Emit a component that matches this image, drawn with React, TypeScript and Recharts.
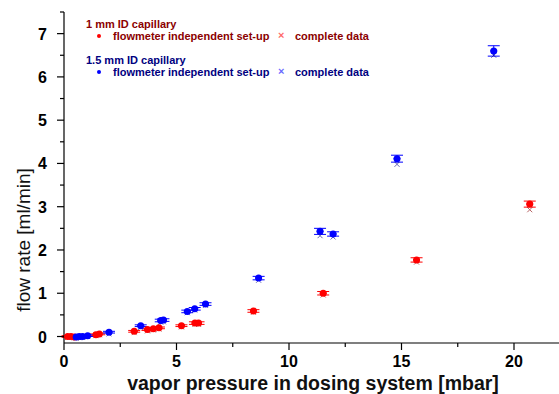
import { ScatterChart, Scatter, XAxis, YAxis, ErrorBar } from 'recharts'

// 1 mm ID capillary
const mm1Pressure = [0.16, 0.31, 0.46, 1.42, 1.57, 3.12, 3.71, 3.97, 4.22, 5.22, 5.82, 5.98, 8.42, 11.52, 15.67, 20.7]
const mm1Flow = [0.0, 0.0, -0.01, 0.04, 0.06, 0.12, 0.16, 0.18, 0.2, 0.25, 0.31, 0.31, 0.59, 1.0, 1.77, 3.06]
const mm1FlowErr = [0.02, 0.02, 0.02, 0.02, 0.02, 0.02, 0.02, 0.02, 0.02, 0.02, 0.03, 0.03, 0.03, 0.04, 0.05, 0.07]
const mm1Complete = [-0.02, -0.02, -0.03, 0.02, 0.04, 0.09, 0.13, 0.15, 0.17, 0.22, 0.28, 0.28, 0.56, 0.96, 1.72, 2.93]

// 1.5 mm ID capillary
const mm15Pressure = [0.54, 0.68, 0.83, 1.05, 2.0, 3.41, 4.3, 4.42, 5.48, 5.81, 6.29, 8.65, 11.38, 11.96, 14.8, 19.1]
const mm15Flow = [-0.01, 0.0, 0.0, 0.02, 0.1, 0.25, 0.37, 0.38, 0.58, 0.64, 0.75, 1.35, 2.43, 2.37, 4.11, 6.6]
const mm15FlowErr = [0.02, 0.02, 0.02, 0.02, 0.02, 0.02, 0.03, 0.03, 0.03, 0.03, 0.03, 0.04, 0.07, 0.05, 0.08, 0.12]
const mm15Complete = [-0.04, -0.03, -0.02, 0.0, 0.06, 0.21, 0.33, 0.34, 0.55, 0.61, 0.72, 1.3, 2.33, 2.3, 3.98, 6.5]

const pressureErr = 0.15

const xTicks = [0, 2.5, 5, 7.5, 10, 12.5, 15, 17.5, 20]
const yTicks = [0, 0.5, 1, 1.5, 2, 2.5, 3, 3.5, 4, 4.5, 5, 5.5, 6, 6.5, 7, 7.5]

const W = 559
const H = 394
const LEFT = 64
const TOP = 12
const BOTTOM_Y = 343
const FONT = '"Liberation Sans", Arial, sans-serif'

const RED = '#ff0000'
const BLUE = '#0000ff'
const DARK_RED = '#8b0000'
const NAVY = '#000080'

const toRows = (xs: number[], ys: number[], errs?: number[]) =>
  xs.map((x, i) => ({ x, y: ys[i], xErr: pressureErr, yErr: errs ? errs[i] : 0 }))

const mm1Data = toRows(mm1Pressure, mm1Flow, mm1FlowErr)
const mm1CompleteData = toRows(mm1Pressure, mm1Complete)
const mm15Data = toRows(mm15Pressure, mm15Flow, mm15FlowErr)
const mm15CompleteData = toRows(mm15Pressure, mm15Complete)

function YTick({ y, payload }: any) {
  const major = Number.isInteger(payload.value)
  return (
    <g>
      <line x1={LEFT} x2={LEFT - (major ? 7 : 4)} y1={y} y2={y} stroke="#000" strokeWidth={1.2} />
      {major && (
        <text x={47} y={y} dy={6} textAnchor="end" fontFamily={FONT} fontWeight="bold" fontSize={16} fill="#000">
          {payload.value}
        </text>
      )}
    </g>
  )
}

function XTick({ x, payload }: any) {
  const major = payload.value % 5 === 0
  return (
    <g>
      <line x1={x} x2={x} y1={BOTTOM_Y} y2={BOTTOM_Y + (major ? 7 : 4)} stroke="#000" strokeWidth={1.2} />
      {major && (
        <text x={x} y={367} textAnchor="middle" fontFamily={FONT} fontWeight="bold" fontSize={16} fill="#000">
          {payload.value}
        </text>
      )}
    </g>
  )
}

const dot = (color: string) => (p: any) => <circle cx={p.cx} cy={p.cy} r={3.5} fill={color} />
const cross = (color: string) => (p: any) => (
  <g stroke={color} strokeWidth={1} opacity={0.6}>
    <line x1={p.cx - 2.5} y1={p.cy - 2.5} x2={p.cx + 2.5} y2={p.cy + 2.5} />
    <line x1={p.cx - 2.5} y1={p.cy + 2.5} x2={p.cx + 2.5} y2={p.cy - 2.5} />
  </g>
)

function LegendRow({ top, color, dotColor, title }: { top: number; color: string; dotColor: string; title: string }) {
  const txt = { position: 'absolute' as const, fontFamily: FONT, fontWeight: 'bold' as const, fontSize: 11, lineHeight: '11px', color, whiteSpace: 'nowrap' as const }
  return (
    <>
      <div style={{ ...txt, left: 86, top }}>{title}</div>
      <div style={{ position: 'absolute', left: 97, top: top + 15, width: 4, height: 4, borderRadius: 2, background: dotColor }} />
      <div style={{ ...txt, left: 113, top: top + 11.5 }}>flowmeter independent set-up</div>
      <div style={{ ...txt, left: 278, top: top + 10.5, color: dotColor, opacity: 0.6 }}>×</div>
      <div style={{ ...txt, left: 295, top: top + 11.5 }}>complete data</div>
    </>
  )
}

export default function App() {
  return (
    <div style={{ position: 'absolute', left: 0, top: 0, width: W, height: H, background: '#fff' }}>
      <ScatterChart width={W} height={H} margin={{ top: TOP, right: 0, bottom: 0, left: 0 }}>
        <XAxis
          type="number"
          dataKey="x"
          domain={[0, 22]}
          ticks={xTicks}
          interval={0}
          height={H - BOTTOM_Y}
          tickLine={false}
          axisLine={{ stroke: '#000', strokeWidth: 1.2 }}
          tick={<XTick />}
        />
        <YAxis
          type="number"
          dataKey="y"
          domain={[-0.15, 7.5]}
          ticks={yTicks}
          interval={0}
          width={LEFT}
          tickLine={false}
          axisLine={{ stroke: '#000', strokeWidth: 1.2 }}
          tick={<YTick />}
        />
        <Scatter data={mm1CompleteData} shape={cross(DARK_RED)} isAnimationActive={false} />
        <Scatter data={mm15CompleteData} shape={cross(NAVY)} isAnimationActive={false} />
        <Scatter data={mm1Data} shape={dot(RED)} isAnimationActive={false}>
          <ErrorBar dataKey="yErr" direction="y" width={6} stroke={RED} strokeWidth={1} />
          <ErrorBar dataKey="xErr" direction="x" width={0} stroke={RED} strokeWidth={1.5} />
        </Scatter>
        <Scatter data={mm15Data} shape={dot(BLUE)} isAnimationActive={false}>
          <ErrorBar dataKey="yErr" direction="y" width={6} stroke={BLUE} strokeWidth={1} />
          <ErrorBar dataKey="xErr" direction="x" width={0} stroke={BLUE} strokeWidth={1.5} />
        </Scatter>
      </ScatterChart>

      <LegendRow top={19} color={DARK_RED} dotColor={RED} title="1 mm ID capillary" />
      <LegendRow top={55} color={NAVY} dotColor={BLUE} title="1.5 mm ID capillary" />

      <div
        style={{
          position: 'absolute',
          left: 313,
          top: 373,
          transform: 'translateX(-50%)',
          fontFamily: FONT,
          fontWeight: 'bold',
          fontSize: 19.5,
          lineHeight: '20px',
          whiteSpace: 'nowrap',
          color: '#111',
        }}
      >
        vapor pressure in dosing system [mbar]
      </div>
      <div
        style={{
          position: 'absolute',
          left: 24,
          top: 240,
          transform: 'translate(-50%, -50%) rotate(-90deg)',
          fontFamily: FONT,
          fontSize: 19,
          lineHeight: '20px',
          whiteSpace: 'nowrap',
          color: '#111',
        }}
      >
        flow rate [ml/min]
      </div>
    </div>
  )
}
